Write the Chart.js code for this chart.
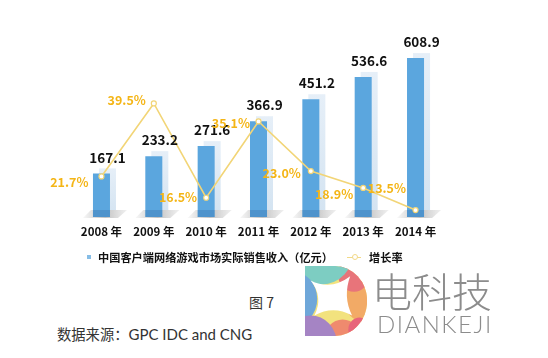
<!DOCTYPE html>
<html>
<head>
<meta charset="utf-8">
<script src="https://cdn.jsdelivr.net/npm/chart.js@4.4.1/dist/chart.umd.min.js"></script>
<style>
  html, body { margin:0; padding:0; background:#ffffff; }
  body { width:548px; height:358px; position:relative; overflow:hidden; font-family:"Noto Sans CJK SC", sans-serif; }
  #wrap { position:absolute; left:0; top:0; width:548px; height:250px; }
  .legend { position:absolute; top:248px; left:0; height:18px; font-size:11.2px; font-weight:bold; color:#111; white-space:nowrap; }
  .sq { position:absolute; left:87px; top:7px; width:4px; height:4px; background:#86bde6; }
  .t1 { position:absolute; left:98px; top:0px; line-height:18px; }
  .lm { position:absolute; left:347px; top:8.5px; width:14px; height:1.5px; background:#f2d987; }
  .lm i { position:absolute; left:4.5px; top:-2.5px; width:4px; height:4px; border-radius:50%; background:#fff; border:1px solid #f2d987; box-sizing:content-box; }
  .t2 { position:absolute; left:369px; top:0px; line-height:18px; }
  .fig { position:absolute; left:249px; top:292px; font-size:14px; color:#333; line-height:20px; }
  .src { position:absolute; left:57px; top:324px; font-size:14.3px; color:#333; white-space:nowrap; line-height:20px; }
  .src span { font-family:Lato, "Open Sans", sans-serif; font-size:15px; }
  .logo { position:absolute; left:305px; top:266px; }
  .lt1 { position:absolute; left:372px; top:266px; font-size:40px; font-weight:300; color:#8c8c8c; line-height:48px; white-space:nowrap; }
  .lt2 { position:absolute; left:377px; top:312px; font-family:Lato, "Open Sans", sans-serif; font-weight:300; font-size:24px; color:#8c8c8c; line-height:24px; letter-spacing:1.5px; white-space:nowrap; }
</style>
</head>
<body>
<div id="wrap"><canvas id="c" width="548" height="250"></canvas></div>

<div class="legend">
  <div class="sq"></div>
  <div class="t1">中国客户端网络游戏市场实际销售收入（亿元）</div>
  <div class="lm"><i></i></div>
  <div class="t2">增长率</div>
</div>
<div class="fig">图 7</div>
<div class="src">数据来源：<span>GPC IDC and CNG</span></div>

<svg class="logo" width="64" height="70" viewBox="0 0 68 68" preserveAspectRatio="none">
  <defs><clipPath id="dclip"><path d="M0,0 H32 A34,34 0 0 1 32,68 H0 Z"/></clipPath></defs>
  <g clip-path="url(#dclip)">
    <rect x="0" y="0" width="68" height="68" fill="#f2e27e"/>
    <circle cx="62" cy="34" r="20" fill="#f2aa66"/>
    <circle cx="52" cy="8" r="17" fill="#e8747a"/>
    <circle cx="18" cy="-16" r="34" fill="#7dcdc2"/>
    <circle cx="-14" cy="32" r="27" fill="#6fa7d9"/>
    <circle cx="40" cy="72" r="20" fill="#ef8a6e"/>
    <circle cx="58" cy="62" r="12" fill="#e8657a"/>
    <circle cx="6" cy="76" r="28" fill="#a584c4"/>
    <path d="M6,14 Q28,24 48,10 Q40,30 50,48 Q30,38 10,48 Q20,30 6,14 Z" fill="#ffffff"/>
  </g>
</svg>
<div class="lt1">电科技</div>
<div class="lt2">DIANKEJI</div>

<script>
const years = ["2008 年", "2009 年", "2010 年", "2011 年", "2012 年", "2013 年", "2014 年"];
const revenue = [167.1, 233.2, 271.6, 366.9, 451.2, 536.6, 608.9];
const growth = [21.7, 39.5, 16.5, 35.1, 23.0, 18.9, 13.5];
const revenueLabels = ["167.1", "233.2", "271.6", "366.9", "451.2", "536.6", "608.9"];
const growthLabels = ["21.7%", "39.5%", "16.5%", "35.1%", "23.0%", "18.9%", "13.5%"];

const FONT = '"Noto Sans CJK SC", sans-serif';
const growthLabelDx = [-13, -8, -9, -8.5, -10, -10, -9.5];
const growthLabelDy = [6, -3, 0, 2, 2, 6, -22];

const barDeco = {
  id: 'barDeco',
  beforeDatasetsDraw(chart) {
    const ctx = chart.ctx;
    const meta = chart.getDatasetMeta(0);
    ctx.save();
    meta.data.forEach(el => {
      const w = el.width, L = el.x - w / 2, R = el.x + w / 2, B = el.base, T = el.y;
      const g = ctx.createLinearGradient(L - 10, 0, R + 18, 0);
      g.addColorStop(0, 'rgba(120,120,120,0.05)');
      g.addColorStop(0.5, 'rgba(120,120,120,0.45)');
      g.addColorStop(1, 'rgba(160,160,160,0.15)');
      ctx.fillStyle = g;
      ctx.beginPath();
      ctx.moveTo(L - 10, B + 1);
      ctx.lineTo(R + 8, B + 1);
      ctx.lineTo(R + 17, B - 7);
      ctx.lineTo(L - 2, B - 7);
      ctx.closePath();
      ctx.fill();
      const g2 = ctx.createLinearGradient(0, T - 5, 0, B);
      g2.addColorStop(0, '#e6eff8');
      g2.addColorStop(1, '#d3e3f1');
      ctx.fillStyle = g2;
      ctx.fillRect(L + 6, T - 5, w, B - T - 2);
    });
    ctx.restore();
  },
  afterDatasetDraw(chart, args) {
    if (args.index !== 0) return;
    const ctx = chart.ctx;
    const meta = chart.getDatasetMeta(0);
    ctx.save();
    meta.data.forEach(el => {
      const w = el.width, L = el.x - w / 2, B = el.base;
      ctx.fillStyle = 'rgba(30,80,140,0.22)';
      ctx.fillRect(L, B - 7, w, 7);
    });
    ctx.restore();
  },
  afterDatasetsDraw(chart) {
    const ctx = chart.ctx;
    ctx.save();
    const bars = chart.getDatasetMeta(0).data;
    ctx.font = 'bold 13.5px ' + FONT;
    ctx.fillStyle = '#111';
    ctx.textAlign = 'center';
    ctx.textBaseline = 'middle';
    bars.forEach((el, i) => {
      ctx.fillText(revenueLabels[i], el.x + 6, el.y - 16);
    });
    const pts = chart.getDatasetMeta(1).data;
    ctx.font = 'bold 12.5px ' + FONT;
    ctx.fillStyle = '#f4b516';
    ctx.textAlign = 'right';
    pts.forEach((el, i) => {
      ctx.fillText(growthLabels[i], el.x + growthLabelDx[i], el.y + growthLabelDy[i]);
    });
    ctx.restore();
  }
};

new Chart(document.getElementById('c'), {
  data: {
    labels: years,
    datasets: [
      {
        type: 'bar',
        label: '中国客户端网络游戏市场实际销售收入（亿元）',
        data: revenue,
        yAxisID: 'y',
        backgroundColor: '#5ba6de',
        borderWidth: 0,
        barPercentage: 0.325,
        categoryPercentage: 1.0,
        order: 1
      },
      {
        type: 'line',
        label: '增长率',
        data: growth,
        yAxisID: 'y1',
        borderColor: '#f2d577',
        borderWidth: 1.6,
        pointRadius: 2.5,
        pointBackgroundColor: '#ffffff',
        pointBorderColor: '#f2d577',
        pointBorderWidth: 1.2,
        tension: 0,
        order: 0
      }
    ]
  },
  options: {
    responsive: false,
    animation: false,
    devicePixelRatio: 1,
    layout: { padding: { left: 75.3, right: 106.3, top: 34.3, bottom: 3.6 } },
    plugins: { legend: { display: false }, tooltip: { enabled: false } },
    scales: {
      x: {
        grid: { display: false, drawTicks: false },
        border: { display: false },
        ticks: { color: '#111', font: { family: FONT, size: 11.5, weight: 'bold' }, padding: 7.8 }
      },
      y: { display: false, min: 0, max: 700 },
      y1: { display: false, position: 'right', min: 11.8, max: 56.36 }
    }
  },
  plugins: [barDeco]
});
</script>
</body>
</html>
